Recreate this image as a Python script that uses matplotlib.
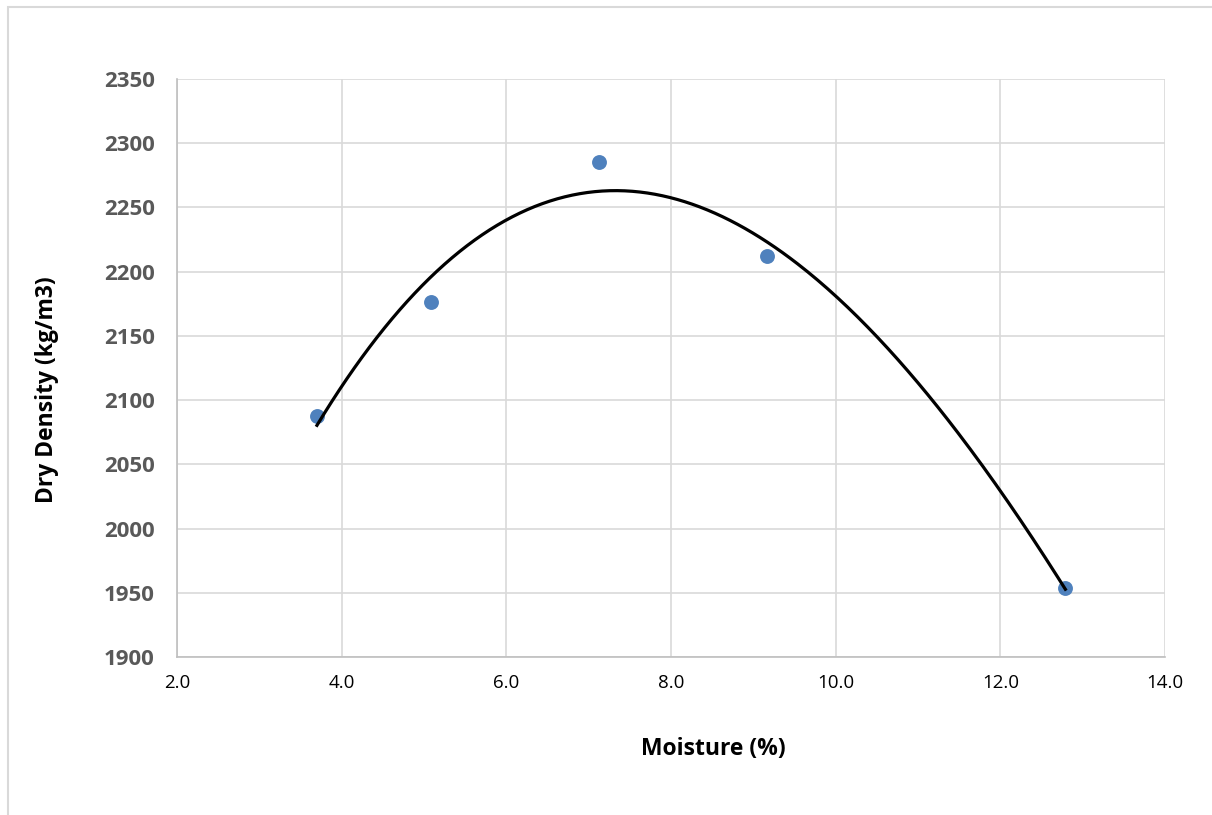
import numpy as np
import matplotlib.pyplot as plt
from matplotlib.patches import Rectangle

moisture = [3.70, 5.09, 7.13, 9.17, 12.79]
dry_density = [2088, 2176, 2285, 2212, 1954]

x_ticks = [2.0, 4.0, 6.0, 8.0, 10.0, 12.0, 14.0]
y_ticks = [1900, 1950, 2000, 2050, 2100, 2150, 2200, 2250, 2300, 2350]

plt.rcParams["font.family"] = ["Open Sans", "DejaVu Sans"]

fig = plt.figure(figsize=(12.12, 8.15), dpi=100)
ax = fig.add_axes([177 / 1212, 1 - 657 / 815, (1165 - 177) / 1212, (657 - 79) / 815])

# outer chart frame (cropped at right/bottom like the reference)
fig.patches.append(Rectangle((8 / 1212, -0.05), 1.1, 1 - 7 / 815 + 0.05,
                             transform=fig.transFigure, fill=False,
                             edgecolor="#D9D9D9", linewidth=1.5))

# polynomial trendline, like the spreadsheet's
coef = np.polyfit(moisture, dry_density, 3)
xs = np.linspace(min(moisture), max(moisture), 300)
ax.plot(xs, np.polyval(coef, xs), color="black", linewidth=2.3, zorder=3)

ax.scatter(moisture, dry_density, s=115, color="#4F81BD", zorder=2, linewidths=0)

ax.set_xlim(2, 14)
ax.set_ylim(1900, 2350)
ax.set_xticks(x_ticks)
ax.set_xticklabels([f"{v:.1f}" for v in x_ticks], fontsize=13.5, color="black")
ax.set_yticks(y_ticks)
ax.set_yticklabels([str(v) for v in y_ticks], fontsize=16, color="#595959", fontweight="bold")
ax.tick_params(axis="y", length=0, pad=16)
ax.tick_params(axis="x", length=0, pad=12)

ax.grid(True, color="#D9D9D9", linewidth=1.2)
ax.set_axisbelow(True)
for side in ("top", "right"):
    ax.spines[side].set_visible(False)
for side in ("left", "bottom"):
    ax.spines[side].set_color("#BFBFBF")
    ax.spines[side].set_linewidth(1.2)

fig.text(713 / 1212, 1 - 749 / 815, "Moisture (%)", ha="center", va="center",
         fontsize=16.5, fontweight="bold")
fig.text(47 / 1212, 1 - 390 / 815, "Dry Density (kg/m3)", ha="center", va="center",
         rotation=90, fontsize=16.5, fontweight="bold")

fig.savefig("out.png", dpi=100)
